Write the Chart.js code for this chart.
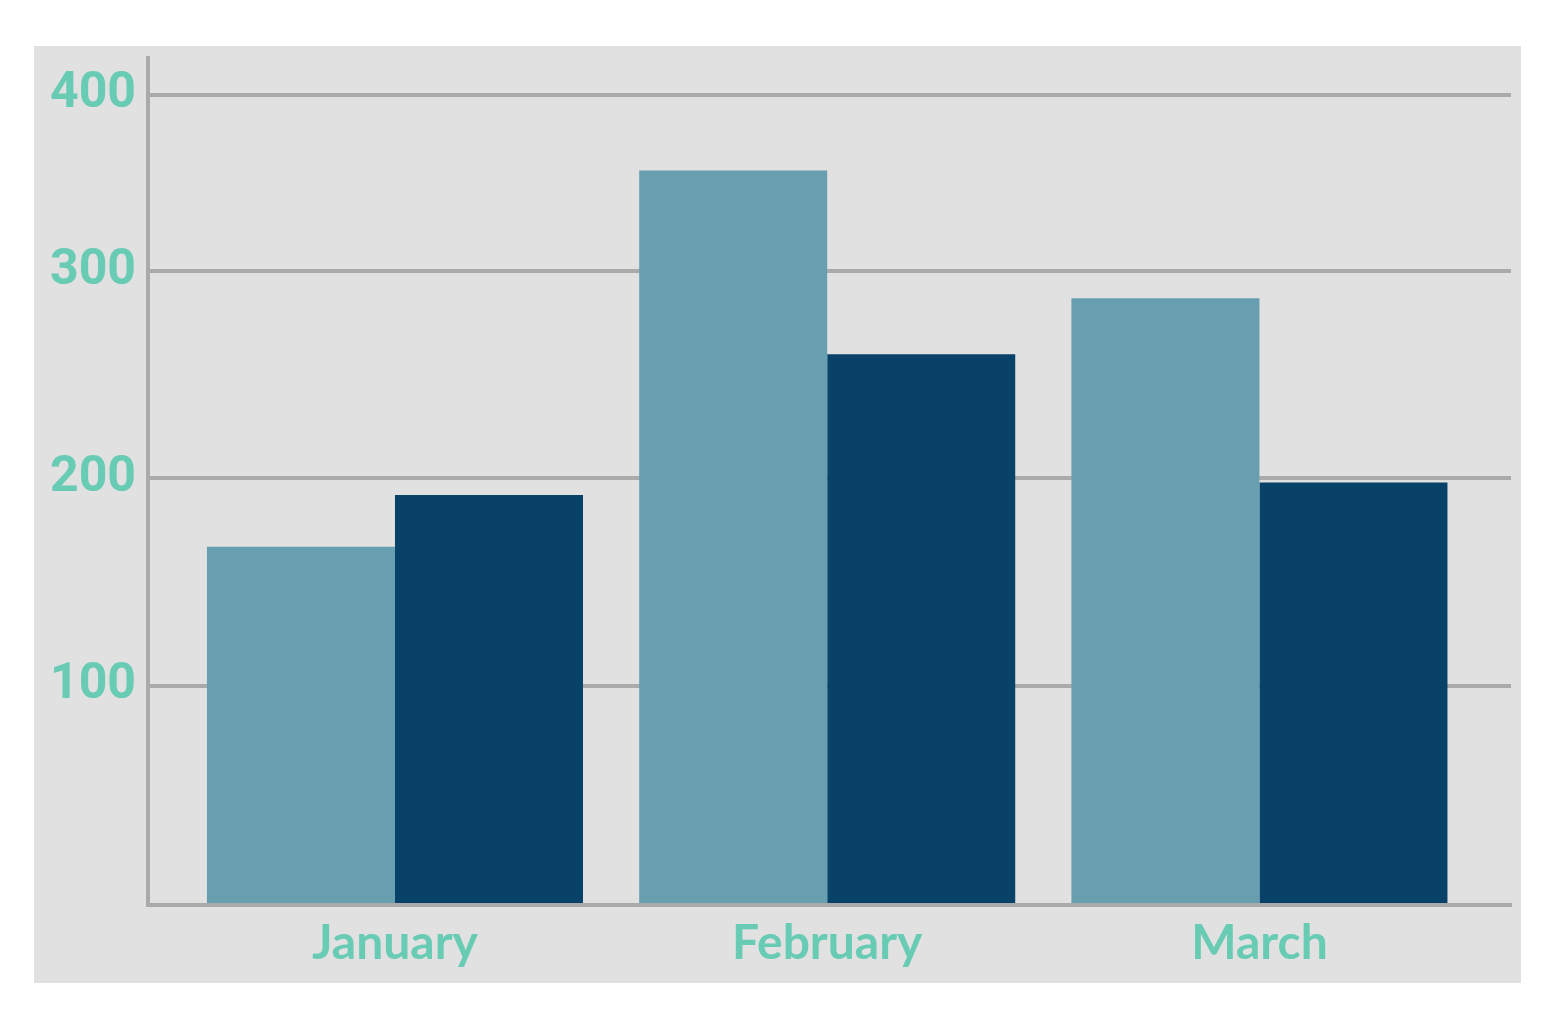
<!DOCTYPE html>
<html>
<head>
<meta charset="utf-8">
<title>Monthly bars</title>
<script src="https://cdn.jsdelivr.net/npm/chart.js@4.4.1/dist/chart.umd.min.js"></script>
<style>
  body { margin: 0; background: #ffffff; }
  #panel {
    position: absolute;
    left: 34px;
    top: 46px;
    width: 1487px;
    height: 937px;
    background: #e1e1e1;
  }
</style>
</head>
<body>
<div id="panel"><canvas id="chart" width="1487" height="937"></canvas></div>
<script>
// --- Data ---
const months = ["January", "February", "March"];
const lightValues = [167, 357, 287];
const darkValues = [192, 260, 198];
const yTicks = [0, 100, 200, 300, 400];

// --- Y scale: gridlines are not evenly spaced in the original, so map
// each tick to where it sits in the plot (0 = bottom, 1 = top) ---
const tickSpots = [0, 0.2587, 0.5038, 0.748, 0.9569];

class StretchedScale extends Chart.LinearScale {
  static id = "stretched";
  static defaults = Chart.LinearScale.defaults;

  getPixelForValue(value) {
    if (value === null || isNaN(value)) return NaN;
    let i = 1;
    while (i < yTicks.length - 1 && value > yTicks[i]) i++;
    const v0 = yTicks[i - 1], v1 = yTicks[i];
    const d = tickSpots[i - 1] + (value - v0) / (v1 - v0) * (tickSpots[i] - tickSpots[i - 1]);
    return this.getPixelForDecimal(d);
  }

  getValueForPixel(pixel) {
    const d = this.getDecimalForPixel(pixel);
    let i = 1;
    while (i < tickSpots.length - 1 && d > tickSpots[i]) i++;
    const d0 = tickSpots[i - 1], d1 = tickSpots[i];
    return yTicks[i - 1] + (d - d0) / (d1 - d0) * (yTicks[i] - yTicks[i - 1]);
  }
}
Chart.register(StretchedScale);

const textColor = "#68cbb4";
const lineColor = "#aaaaaa";

new Chart(document.getElementById("chart"), {
  type: "bar",
  data: {
    datasets: [
      {
        label: "Series 1",
        data: lightValues.map((v, i) => ({ x: i, y: v })),
        backgroundColor: "#679fb1"
      },
      {
        label: "Series 2",
        data: darkValues.map((v, i) => ({ x: i, y: v })),
        backgroundColor: "#084268"
      }
    ]
  },
  options: {
    responsive: false,
    animation: false,
    categoryPercentage: 0.87,
    barPercentage: 1.0,
    layout: { padding: { left: 16, right: 10, top: 12, bottom: 0 } },
    plugins: {
      legend: { display: false },
      tooltip: { enabled: false }
    },
    scales: {
      x: {
        type: "linear",
        offset: false,
        min: -0.5714,
        max: 2.582,
        afterBuildTicks: scale => {
          scale.ticks = months.map((m, i) => ({ value: i }));
        },
        afterFit: scale => {
          scale.height = 78;
        },
        grid: { display: false },
        border: { display: true, color: lineColor, width: 4 },
        ticks: {
          padding: 2,
          color: textColor,
          font: { family: "Lato", size: 48, weight: "bold" },
          callback: value => months[value] || ""
        }
      },
      y: {
        type: "stretched",
        min: 0,
        max: 420,
        afterBuildTicks: scale => {
          scale.ticks = yTicks.map(v => ({ value: v }));
        },
        afterFit: scale => {
          scale.width = 98;
          scale.paddingTop = 0;
          scale.paddingBottom = 0;
        },
        grid: { color: lineColor, lineWidth: 4, drawTicks: false },
        border: { display: true, color: lineColor, width: 4 },
        ticks: {
          crossAlign: "far",
          color: textColor,
          font: { family: "Roboto", size: 50, weight: "bold" },
          callback: value => (value === 0 ? "" : value)
        }
      }
    }
  }
});
</script>
</body>
</html>
